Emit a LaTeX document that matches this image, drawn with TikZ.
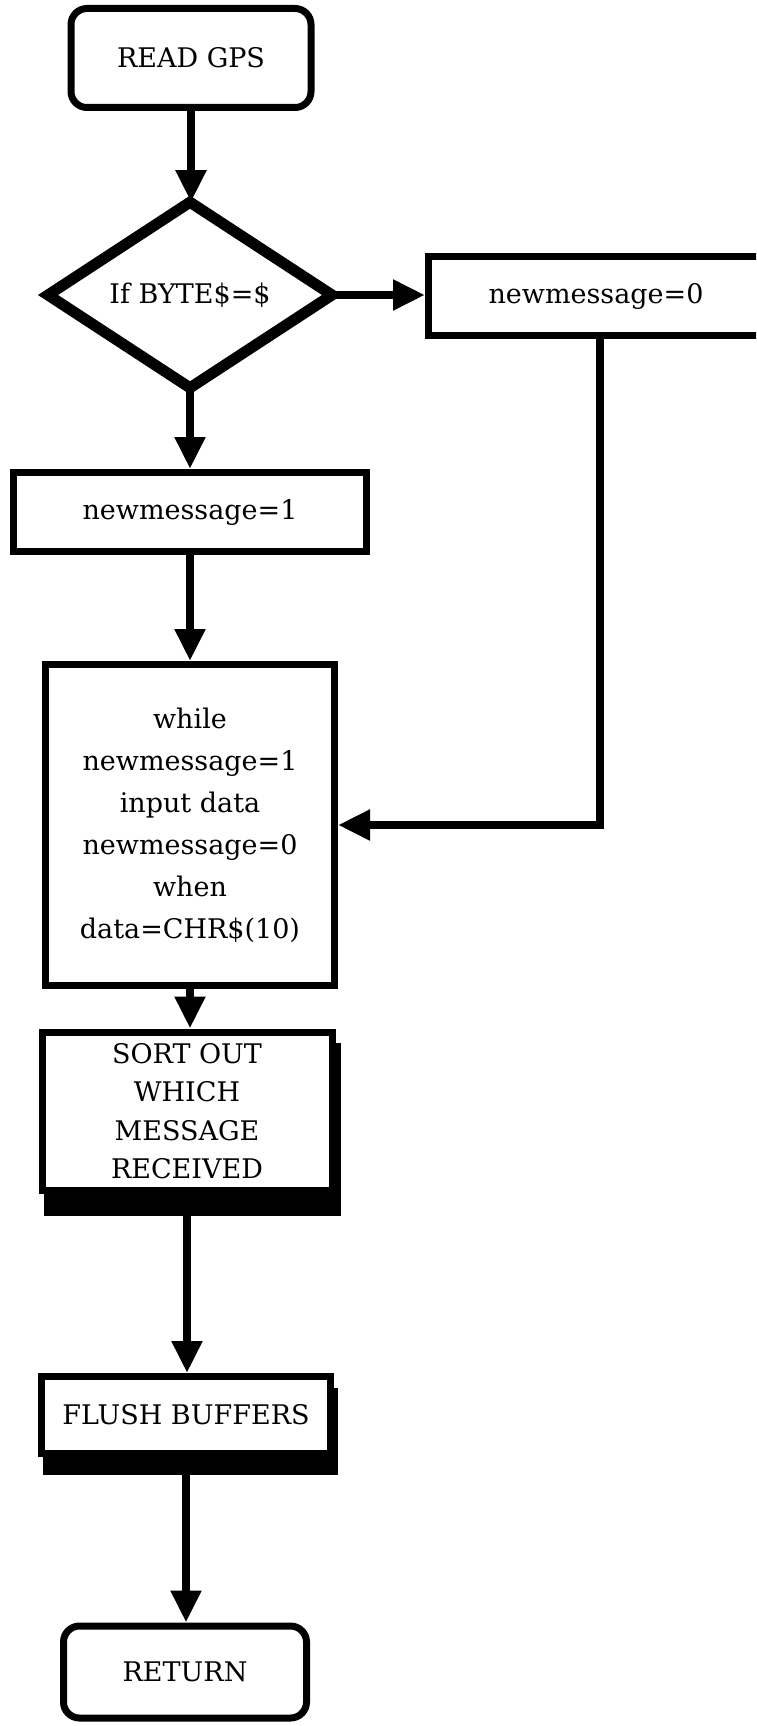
\documentclass[tikz,border=0pt]{standalone}
\usepackage{fontspec}
\setmainfont{DejaVu Serif}
\usetikzlibrary{shapes.geometric,arrows.meta,calc,backgrounds}

\begin{document}
\begin{tikzpicture}[x=1pt,y=-1pt,
  every node/.style={font=\fontsize{27}{42}\selectfont, align=center, inner sep=0pt},
  term/.style={draw, rectangle, line width=7pt, rounded corners=16pt, fill=white},
  procbox/.style={draw, rectangle, line width=7pt, fill=white},
  decision/.style={draw, diamond, line width=11pt, fill=white, outer sep=0pt},
  flow/.style={line width=8pt, -{Triangle[length=32pt,width=29pt]}},
  shade/.style={fill=black},
]
\useasboundingbox (0,0) rectangle (756,1726);
\clip (0,0) rectangle (756,1726);

% process steps
\node[term, minimum width=240pt, minimum height=99pt] (read) at (191,58) {READ GPS};
\node[decision, minimum width=284pt, minimum height=178pt] (dec) at (190,295) {If BYTE\$=\$};
\node[procbox, minimum width=335pt, minimum height=79pt] (nm0) at (596,296) {newmessage=0};
\node[procbox, minimum width=353pt, minimum height=79pt] (nm1) at (190,512) {newmessage=1};
\node[procbox, minimum width=289pt, minimum height=321pt] (loop) at (190,825)
  {while\\newmessage=1\\input data\\newmessage=0\\when\\data=CHR\$(10)};
\node[procbox, minimum width=290pt, minimum height=158pt,
      font=\fontsize{27}{38.5}\selectfont] (sort) at (187,1111)
  {SORT OUT\\WHICH\\MESSAGE\\RECEIVED};
\node[procbox, minimum width=289pt, minimum height=77pt] (flush) at (186,1415) {FLUSH BUFFERS};
\node[term, minimum width=243pt, minimum height=92pt] (ret) at (185,1672) {RETURN};

% drop shadows under the two lower boxes
\begin{scope}[on background layer]
  \fill[shade] ($(sort.north west)+(5,14)$) rectangle ($(sort.south east)+(5,22)$);
  \fill[shade] ($(flush.north west)+(5,15)$) rectangle ($(flush.south east)+(4,18)$);
\end{scope}

% connectors
\draw[flow] (read.south) -- (read.south |- dec.north);
\draw[flow] (dec.east) -- (dec.east -| nm0.west);
\draw[flow] (dec.south) -- (dec.south |- nm1.north);
\draw[flow] ([xshift=4pt]nm0.south) |- (loop.east);
\draw[flow] (nm1.south) -- (nm1.south |- loop.north);
\draw[flow] (loop.south) -- (loop.south |- sort.north);
\draw[flow] (sort.south) -- (sort.south |- flush.north);
\draw[flow] (flush.south) -- (flush.south |- ret.north);
\end{tikzpicture}
\end{document}
